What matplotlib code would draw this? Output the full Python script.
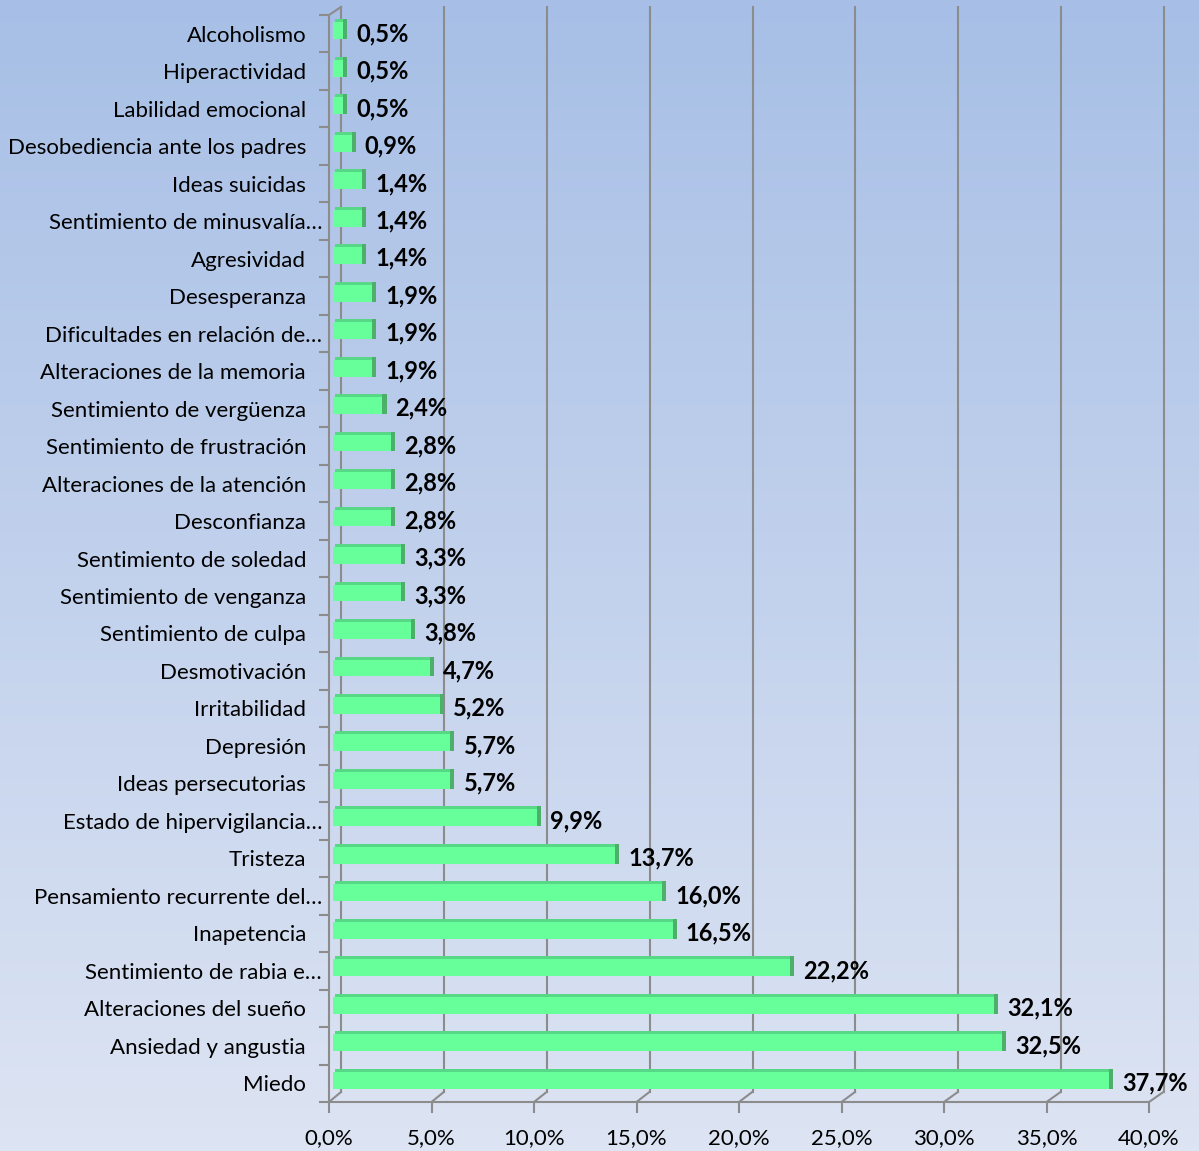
import numpy as np
import matplotlib
matplotlib.use("Agg")
import matplotlib.pyplot as plt
from matplotlib.lines import Line2D
from matplotlib.transforms import ScaledTranslation

# categories from bottom to top
CATEGORIES = [
    "Miedo", "Ansiedad y angustia", "Alteraciones del sueño",
    "Sentimiento de rabia e…", "Inapetencia", "Pensamiento recurrente del…",
    "Tristeza", "Estado de hipervigilancia…", "Ideas persecutorias",
    "Depresión", "Irritabilidad", "Desmotivación", "Sentimiento de culpa",
    "Sentimiento de venganza", "Sentimiento de soledad", "Desconfianza",
    "Alteraciones de la atención", "Sentimiento de frustración",
    "Sentimiento de vergüenza", "Alteraciones de la memoria",
    "Dificultades en relación de…", "Desesperanza", "Agresividad",
    "Sentimiento de minusvalía…", "Ideas suicidas",
    "Desobediencia ante los padres", "Labilidad emocional",
    "Hiperactividad", "Alcoholismo",
]
VALUES = [37.7, 32.5, 32.1, 22.2, 16.5, 16.0, 13.7, 9.9, 5.7, 5.7, 5.2, 4.7,
          3.8, 3.3, 3.3, 2.8, 2.8, 2.8, 2.4, 1.9, 1.9, 1.9, 1.4, 1.4, 1.4,
          0.9, 0.5, 0.5, 0.5]
XTICKS = [0, 5, 10, 15, 20, 25, 30, 35, 40]
XTICK_LABELS = ["0,0%", "5,0%", "10,0%", "15,0%", "20,0%", "25,0%",
                "30,0%", "35,0%", "40,0%"]

FONT = ["Lato", "DejaVu Sans"]
plt.rcParams["font.family"] = FONT

W, H = 1199, 1151
fig = plt.figure(figsize=(W / 100, H / 100), dpi=100)


def box(left, top, right, bottom):
    return [left / W, 1 - bottom / H, (right - left) / W, (bottom - top) / H]


# gradient background
bg = fig.add_axes([0, 0, 1, 1], zorder=-10)
top_c = np.array([0xA7, 0xBF, 0xE6]) / 255
bot_c = np.array([0xDD, 0xE4, 0xF3]) / 255
t = np.linspace(0, 1, 256)[:, None]
grad = top_c[None, :] * (1 - t) + bot_c[None, :] * t
bg.imshow(grad[:, None, :], aspect="auto", extent=[0, 1, 0, 1])
bg.axis("off")

n = len(CATEGORIES)
y = np.arange(n)
ylim = (-0.5, n - 0.5)
grid_c = "#8C8C8C"

# front plane: axis lines, ticks and labels
axf = fig.add_axes(box(329, 15, 1149, 1102), facecolor="none")
axf.set_xlim(0, 40)
axf.set_ylim(*ylim)
axf.set_xticks(XTICKS)
axf.set_xticklabels(XTICK_LABELS, fontsize=16)
axf.set_yticks(y)
axf.set_yticklabels(CATEGORIES, fontsize=16)
axf.set_yticks(np.arange(n + 1) - 0.5, minor=True)
axf.tick_params(axis="y", which="major", length=0, pad=16.5)
axf.tick_params(axis="y", which="minor", length=7, color=grid_c, width=1.5)
axf.tick_params(axis="x", length=8, color=grid_c, width=1.5, pad=11)
for i, tk in enumerate(axf.yaxis.get_major_ticks()):
    if CATEGORIES[i].endswith("…"):
        tk.set_pad(5)
for s in ["top", "right"]:
    axf.spines[s].set_visible(False)
for s in ["left", "bottom"]:
    axf.spines[s].set_color(grid_c)
    axf.spines[s].set_linewidth(1.5)

# bars plane
ax = fig.add_axes(box(333, 12, 333 + 40 * 20.58, 1099), facecolor="none")
ax.set_xlim(0, 40)
ax.set_ylim(*ylim)
ax.axis("off")

# back wall gridlines
back = ax.get_xaxis_transform() + ScaledTranslation(8 / 100, 0, fig.dpi_scale_trans)
for v in XTICKS:
    ax.add_line(Line2D([v, v], [(1099 - 1092) / 1087, (1099 - 7) / 1087],
                       transform=back, color=grid_c, lw=1.5, clip_on=False,
                       zorder=0))
    xb = (341 + v * 20.56) / W
    xf = (329 + v * 20.5) / W
    fig.add_artist(Line2D([xb, xf], [1 - 1092 / H, 1 - 1102 / H],
                          color=grid_c, lw=1.5))
fig.add_artist(Line2D([341 / W, 329 / W], [1 - 7 / H, 1 - 15 / H],
                      color=grid_c, lw=1.5))

h = 0.45
ax.barh(y, VALUES, height=h, color="#66FF99", zorder=3)
ax.barh(y + h / 2 + 0.04, VALUES, height=0.08, left=0.1, color="#57D886",
        zorder=3)
ax.barh(y + 0.04, 0.2, height=h + 0.08, left=VALUES, color="#4CAF6A", zorder=3)

for yi, v in zip(y, VALUES):
    ax.annotate(f"{v:.1f}%".replace(".", ","), (v, yi), xytext=(9.5, -2),
                textcoords="offset points", va="center", ha="left",
                fontsize=17, fontweight="bold", color="black")

fig.savefig("out.png", dpi=100)
